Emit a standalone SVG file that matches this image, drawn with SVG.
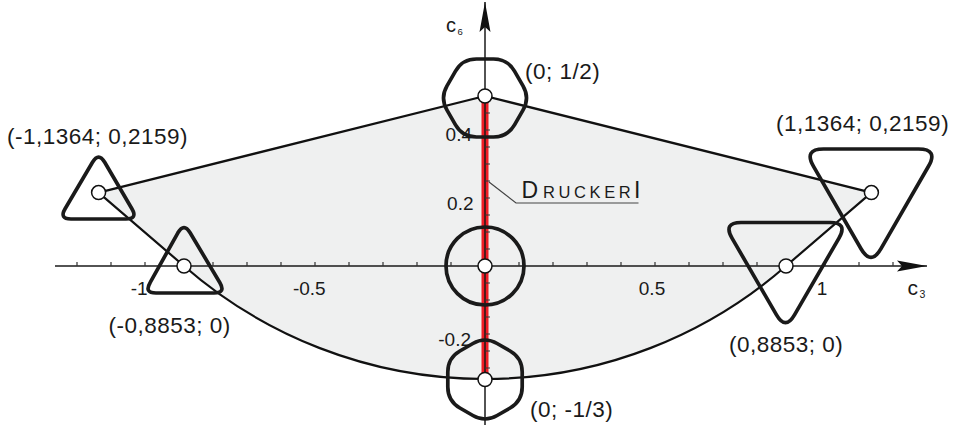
<svg xmlns="http://www.w3.org/2000/svg" width="954" height="434" viewBox="0 0 954 434">
<style>
text{font-family:"Liberation Sans",Arial,Helvetica,sans-serif;fill:#1a1a1a}
.coord{font-size:22.5px;letter-spacing:0.5px}
.tick{font-size:19px}
.sc{font-size:16.5px;letter-spacing:3.6px}
.big{font-size:23px}
.axis{stroke:#1a1a1a;stroke-width:1.5;fill:none}
.ticks{stroke:#333;stroke-width:1.2;fill:none}
.edge{stroke:#111;stroke-width:2.2;fill:none;stroke-linejoin:round}
.shape{stroke:#1a1a1a;stroke-width:3.7;fill:none;stroke-linejoin:round}
.pt{fill:#fff;stroke:#111;stroke-width:1.5}
</style>
<defs>
<marker id="arr" viewBox="-30 -6 31 12" refX="0" refY="0" markerWidth="31" markerHeight="12" markerUnits="userSpaceOnUse" orient="auto">
<path d="M0 0 L-30 -5.5 L-25 0 L-30 5.5 Z" fill="#111"/>
</marker>
</defs>
<rect width="954" height="434" fill="#fff"/>
<path id="region" d="M98.6 192.6 L485 96 L871.4 192.6 L786 266 A457.4 457.4 0 0 1 184 266 Z" fill="#eff0f0"/>
<line id="drucker" x1="485" y1="96" x2="485" y2="379.5" stroke="#ee1c25" stroke-width="7"/>
<g id="axes">
<line class="axis" x1="55" y1="266" x2="927" y2="266" marker-end="url(#arr)"/>
<line class="axis" x1="485" y1="425" x2="485" y2="2" stroke-width="1.4" marker-end="url(#arr)"/>
<path class="ticks" d="M77 266v-4M111 266v-4M145 266v-4M179 266v-4M213 266v-4M247 266v-4M281 266v-4M315 266v-4M349 266v-4M383 266v-4M417 266v-4M451 266v-4M519 266v-4M553 266v-4M587 266v-4M621 266v-4M655 266v-4M689 266v-4M723 266v-4M757 266v-4M791 266v-4M825 266v-4M859 266v-4M893 266v-4"/>
<path class="ticks" d="M485 113h5M485 130h5M485 147h5M485 164h5M485 181h5M485 198h5M485 215h5M485 232h5M485 249h5M485 283h5M485 300h5M485 317h5M485 334h5M485 351h5M485 368h5"/>
<text class="tick" x="139.2" y="295" text-anchor="middle">-1</text>
<text class="tick" x="309.3" y="295" text-anchor="middle">-0.5</text>
<text class="tick" x="652" y="295" text-anchor="middle">0.5</text>
<text class="tick" x="822" y="295" text-anchor="middle">1</text>
<text class="tick" x="472" y="140.7" text-anchor="end">0.4</text>
<text class="tick" x="473.5" y="210" text-anchor="end">0.2</text>
<text class="tick" x="471" y="346" text-anchor="end">-0.2</text>
<text x="446" y="31.7" font-size="20">c<tspan x="457.5" y="35" font-size="9.5">6</tspan></text>
<text x="907.5" y="295" font-size="21">c<tspan x="919.5" y="298.3" font-size="10.5">3</tspan></text>
</g>
<g id="connectors">
<path class="edge" d="M98.6 192.6 L485 96 L871.4 192.6 L786 266 A457.4 457.4 0 0 1 184 266 Z"/>
<polyline points="489,182 516,203 638.5,203" fill="none" stroke="#444" stroke-width="1.2"/>
</g>
<g id="label-drucker">
<text y="198.3"><tspan class="big" x="521.5">D</tspan><tspan class="sc" x="543">RUCKER</tspan><tspan class="big" x="634">I</tspan></text>
</g>
<g id="node-top">
<path class="shape" d="M523 110.1 L514.5 124.9 Q507.5 137 493.5 137 L476.5 137 Q462.5 137 455.5 124.9 L447 110.1 Q440 98 447 85.9 L455.5 71.1 Q462.5 59 476.5 59 L493.5 59 Q507.5 59 514.5 71.1 L523 85.9 Q530 98 523 110.1 Z"/>
<circle class="pt" cx="485" cy="96" r="7"/>
<text class="coord" x="525" y="79.3">(0; 1/2)</text>
</g>
<g id="node-origin">
<circle class="shape" cx="485" cy="266" r="39"/>
<circle class="pt" cx="485" cy="266" r="7"/>
</g>
<g id="node-bottom">
<path class="shape" d="M497.1 343.5 L510.1 351 Q522.2 358 522.2 372 L522.2 387 Q522.2 401 510.1 408 L497.1 415.5 Q485 422.5 472.9 415.5 L459.9 408 Q447.8 401 447.8 387 L447.8 372 Q447.8 358 459.9 351 L472.9 343.5 Q485 336.5 497.1 343.5 Z"/>
<circle class="pt" cx="485" cy="379.5" r="7"/>
<text class="coord" x="530" y="417">(0; -1/3)</text>
</g>
<g id="node-left-top">
<path class="shape" d="M104.7 162.3 L131.9 208.7 Q138 219 126 219 L71 219 Q59 219 65.1 208.7 L92.5 162.3 Q98.6 152 104.7 162.3 Z"/>
<circle class="pt" cx="98.6" cy="192.6" r="7"/>
<text class="coord" x="7" y="144.3">(-1,1364; 0,2159)</text>
</g>
<g id="node-left-axis">
<path class="shape" d="M190.1 232.8 L219.9 282.7 Q226 293 214 293 L156 293 Q144 293 150.1 282.7 L177.9 232.8 Q184 222.5 190.1 232.8 Z"/>
<circle class="pt" cx="184" cy="266" r="7"/>
<text class="coord" x="108.5" y="333.3">(-0,8853; 0)</text>
</g>
<g id="node-right-top">
<path class="shape" d="M823.5 149 L918.5 149 Q938.5 149 928.5 166.3 L881 248.7 Q871 266 861 248.7 L813.5 166.3 Q803.5 149 823.5 149 Z"/>
<circle class="pt" cx="871.4" cy="192.6" r="7"/>
<text class="coord" x="776" y="130.5">(1,1364; 0,2159)</text>
</g>
<g id="node-right-axis">
<path class="shape" d="M741 222.5 L830 222.5 Q848 222.5 839 238.1 L794.5 314.9 Q785.5 330.5 776.5 314.9 L732 238.1 Q723 222.5 741 222.5 Z"/>
<circle class="pt" cx="786" cy="266" r="7"/>
<text class="coord" x="729" y="351.7">(0,8853; 0)</text>
</g>
</svg>
